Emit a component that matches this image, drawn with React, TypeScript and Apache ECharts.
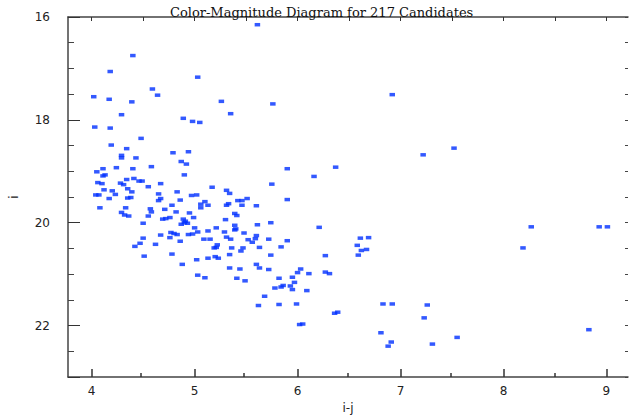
import React, { useEffect, useRef } from "react";
import * as echarts from "echarts";

// i-j colour of each candidate
const colorIJ: number[] = [
  5.61, 4.40, 4.18, 5.03, 4.59, 4.64, 4.02, 4.17, 4.39, 5.26,
  5.35, 4.29, 4.89, 4.98, 5.05, 4.03, 4.18, 4.48, 4.19, 4.34,
  4.29, 4.29, 4.43, 4.79, 4.94, 4.87, 4.92, 4.11, 4.24, 4.40,
  4.58, 4.05, 4.13, 4.11, 4.90, 4.06, 4.10, 4.28, 4.31, 4.34,
  4.41, 4.46, 4.49, 4.55, 4.67, 4.35, 4.39, 4.12, 4.20, 4.04,
  4.07, 4.23, 4.17, 4.35, 4.38, 4.65, 4.83, 4.97, 5.02, 5.17,
  5.31, 5.34, 4.67, 4.65, 4.86, 5.10, 5.06, 5.13, 5.42, 5.46,
  5.51, 5.46, 5.33, 5.31, 5.60, 4.78, 4.08, 4.33, 4.57, 4.71,
  5.06,
  4.58, 4.82, 4.95, 5.39, 5.41, 4.29, 4.32, 4.36, 4.55, 4.99,
  4.69, 4.72, 4.76, 4.89, 5.30, 4.91, 4.90, 4.87, 4.93, 4.50,
  5.39, 5.61, 5.00, 5.21, 5.39, 5.40, 5.03, 5.13, 5.29, 5.48,
  4.77, 4.80, 4.83, 4.67, 4.94, 4.98, 5.60, 4.76, 4.50, 5.31,
  5.35, 5.09, 5.15, 5.52, 5.56, 5.59, 4.86, 4.47, 4.62, 4.42,
  5.22, 5.21, 5.19, 5.36, 5.47, 5.45, 5.63, 5.34, 4.78, 4.51,
  5.02, 5.13, 5.20, 5.23, 4.88, 5.60, 5.63, 5.34, 5.44, 5.03,
  5.10, 5.41, 5.49,
  5.76, 5.90, 6.37, 6.16, 5.75, 5.90,
  5.74, 6.21, 5.72, 5.90, 5.84, 6.61, 6.69, 6.58, 6.62, 6.67,
  6.59, 5.74, 6.27, 5.72, 6.03, 6.00, 6.11, 6.27, 6.31, 5.95,
  5.97, 5.82, 5.78, 5.84, 5.86, 5.93, 5.95, 6.09, 5.68,
  5.62, 5.82, 5.99, 6.36, 6.39, 6.02, 6.05, 6.83, 6.92, 7.26,
  7.23, 6.81, 6.91, 6.88, 7.31,
  7.55, 8.27, 8.19, 8.93, 9.01, 8.83,
  6.92, 7.22, 7.52,
];

// i magnitude of each candidate
const iMag: number[] = [
  16.15, 16.75, 17.06, 17.17, 17.40, 17.52, 17.55, 17.60, 17.65, 17.64,
  17.88, 17.90, 17.97, 18.03, 18.05, 18.14, 18.16, 18.36, 18.49, 18.56,
  18.69, 18.74, 18.74, 18.64, 18.62, 18.81, 18.86, 18.95, 18.93, 18.95,
  18.91, 19.01, 19.07, 19.09, 19.07, 19.22, 19.24, 19.23, 19.26, 19.16,
  19.14, 19.19, 19.19, 19.30, 19.24, 19.34, 19.40, 19.36, 19.38, 19.46,
  19.46, 19.45, 19.53, 19.52, 19.51, 19.44, 19.40, 19.47, 19.46, 19.31,
  19.37, 19.43, 19.53, 19.57, 19.56, 19.59, 19.64, 19.66, 19.57, 19.57,
  19.53, 19.66, 19.63, 19.66, 19.67, 19.66, 19.71, 19.71, 19.73, 19.74,
  19.71,
  19.79, 19.79, 19.81, 19.82, 19.86, 19.80, 19.85, 19.87, 19.87, 19.90,
  19.93, 19.92, 19.90, 19.93, 19.94, 19.97, 20.00, 20.03, 20.01, 20.01,
  20.05, 20.04, 20.10, 20.10, 20.14, 20.12, 20.18, 20.16, 20.18, 20.20,
  20.19, 20.21, 20.23, 20.24, 20.23, 20.22, 20.25, 20.29, 20.30, 20.28,
  20.32, 20.32, 20.32, 20.33, 20.38, 20.31, 20.36, 20.40, 20.42, 20.46,
  20.43, 20.48, 20.49, 20.49, 20.49, 20.55, 20.48, 20.62, 20.61, 20.65,
  20.72, 20.69, 20.66, 20.69, 20.81, 20.81, 20.88, 20.88, 20.90, 21.02,
  21.07, 21.08, 21.13,
  17.69, 18.95, 18.92, 19.10, 19.25, 19.55,
  20.00, 20.09, 20.32, 20.35, 20.47, 20.30, 20.29, 20.44, 20.54, 20.52,
  20.63, 20.63, 20.64, 20.91, 20.90, 20.97, 20.99, 20.96, 20.99, 21.06,
  21.16, 21.08, 21.27, 21.25, 21.22, 21.23, 21.30, 21.32, 21.43,
  21.61, 21.59, 21.58, 21.76, 21.74, 21.98, 21.97, 21.58, 21.58, 21.60,
  21.85, 22.14, 22.32, 22.40, 22.36,
  22.23, 20.08, 20.49, 20.08, 20.08, 22.08,
  17.51, 18.68, 18.55,
];

const xMajorTicks = [4, 5, 6, 7, 8, 9];
const xMinorTicks = [4.5, 5.5, 6.5, 7.5, 8.5];
const xAllTicks = [4, 4.5, 5, 5.5, 6, 6.5, 7, 7.5, 8, 8.5, 9];

const X_MIN = 3.77;
const X_MAX = 9.21;
const Y_MIN = 16;
const Y_MAX = 23;

const SANS = "DejaVu Sans";
const SERIF = "DejaVu Serif";

export default function App() {
  const ref = useRef<HTMLDivElement>(null);

  useEffect(() => {
    if (!ref.current) return;
    const chart = echarts.init(ref.current, undefined, { renderer: "svg" });
    const points = colorIJ.map((x, k) => [x, iMag[k]]);
    const plotRect = { left: 65, top: 17, width: 563, height: 360 };
    const axisColor = "#444";

    chart.setOption({
      animation: false,
      backgroundColor: "#fff",
      title: {
        text: "Color-Magnitude Diagram for 217 Candidates",
        left: 165,
        top: 1,
        textStyle: { fontFamily: SERIF, fontSize: 13, fontWeight: "normal", color: "#111" },
      },
      grid: [
        { ...plotRect },
        { ...plotRect },
      ],
      xAxis: [
        {
          type: "value",
          gridIndex: 0,
          position: "bottom",
          min: X_MIN,
          max: X_MAX,
          name: "i-j",
          nameLocation: "middle",
          nameGap: 23,
          nameTextStyle: { fontFamily: SANS, fontSize: 12, color: "#222" },
          axisLine: { lineStyle: { color: axisColor, width: 1.5 } },
          axisTick: { inside: true, length: 8, customValues: xMajorTicks, lineStyle: { color: "#333", width: 1.5 } },
          axisLabel: { customValues: xMajorTicks, margin: 8, fontFamily: SANS, fontSize: 12, color: "#222" },
          splitLine: { show: false },
        },
        {
          type: "value",
          gridIndex: 0,
          position: "top",
          min: X_MIN,
          max: X_MAX,
          axisLine: { lineStyle: { color: axisColor, width: 1.5 } },
          axisTick: { inside: true, length: 4, customValues: xAllTicks, lineStyle: { color: "#333" } },
          axisLabel: { show: false },
          splitLine: { show: false },
        },
        {
          type: "value",
          gridIndex: 1,
          position: "bottom",
          min: X_MIN,
          max: X_MAX,
          axisLine: { show: false },
          axisTick: { inside: true, length: 4, customValues: xMinorTicks, lineStyle: { color: "#333", width: 1.5 } },
          axisLabel: { show: false },
          splitLine: { show: false },
        },
      ],
      yAxis: [
        {
          type: "value",
          gridIndex: 0,
          position: "left",
          inverse: true,
          min: Y_MIN,
          max: Y_MAX,
          interval: 2,
          name: "i",
          nameLocation: "middle",
          nameGap: 48,
          nameTextStyle: { fontFamily: SANS, fontSize: 12, color: "#222" },
          axisLine: { lineStyle: { color: axisColor, width: 1.5 } },
          axisTick: { inside: true, length: 12, lineStyle: { color: "#333" } },
          minorTick: { show: true, splitNumber: 4, length: 6, lineStyle: { color: "#444" } },
          axisLabel: { margin: 18, showMaxLabel: false, fontFamily: SANS, fontSize: 12, color: "#222" },
          splitLine: { show: false },
          minorSplitLine: { show: false },
        },
        {
          type: "value",
          gridIndex: 0,
          position: "right",
          inverse: true,
          min: Y_MIN,
          max: Y_MAX,
          interval: 0.5,
          axisLine: { show: false },
          axisTick: { show: true, inside: true, length: 3, lineStyle: { color: "#444" } },
          axisLabel: { show: false },
          splitLine: { show: false },
        },
        {
          type: "value",
          gridIndex: 1,
          inverse: true,
          min: Y_MIN,
          max: Y_MAX,
          show: false,
        },
      ],
      series: [
        {
          type: "scatter",
          xAxisIndex: 0,
          yAxisIndex: 0,
          symbol: "rect",
          symbolSize: [5.5, 3.5],
          itemStyle: { color: "#0030ff" },
          data: points,
        },
      ],
    });

    return () => chart.dispose();
  }, []);

  return (
    <div
      ref={ref}
      style={{ position: "fixed", left: 0, top: 0, width: 629, height: 420, background: "#fff" }}
    />
  );
}
